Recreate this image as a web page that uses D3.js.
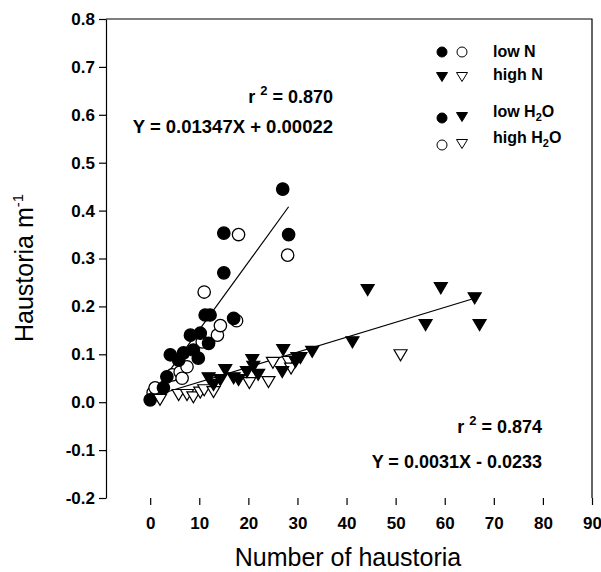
<!DOCTYPE html>
<html><head><meta charset="utf-8">
<script src="https://cdn.jsdelivr.net/npm/d3@7"></script>
<style>
body{margin:0;background:#fff;}
svg{font-family:"Liberation Sans",Arial,sans-serif;}
</style></head>
<body><svg id="c" width="601" height="572"></svg>
<script>
// ---- data ----
const lowN_lowH2O = [[0,0.005],[2.7,0.03],[3.4,0.053],[4.1,0.099],[5.8,0.088],[6.8,0.103],[8.2,0.14],[8.8,0.109],[9.8,0.092],[10.2,0.144],[11.2,0.182],[12.2,0.182],[11.9,0.123],[15,0.27],[15,0.353],[17,0.175],[27,0.445],[28.2,0.35]];
const lowN_highH2O = [[0.6,0.02],[1,0.03],[4.5,0.057],[6.1,0.063],[6.5,0.05],[7.5,0.074],[10.6,0.126],[11,0.23],[13.7,0.14],[14.3,0.16],[17.6,0.17],[18,0.35],[28,0.307]];
const highN_lowH2O = [[11.9,0.05],[12.9,0.036],[14.3,0.046],[15.3,0.067],[17,0.05],[18,0.046],[19.7,0.063],[20.8,0.088],[21,0.074],[22,0.057],[26.9,0.063],[27.1,0.109],[29.6,0.084],[30,0.092],[30.6,0.092],[33,0.105],[41.2,0.125],[44.3,0.234],[56.1,0.161],[59.2,0.238],[66.1,0.217],[67.1,0.161]];
const highN_highH2O = [[2,0.005],[5.8,0.015],[7.5,0.015],[8.8,0.01],[10.2,0.02],[11,0.025],[12.9,0.021],[20.2,0.04],[24.1,0.042],[25,0.082],[28.2,0.084],[28.7,0.07],[51,0.098]];
const fitLowN = [[0,0.01],[28.2,0.408]];
const fitHighN = [[1,0.014],[66.1,0.217]];
const xTicks = [0,10,20,30,40,50,60,70,80,90];
const yTicks = [-0.2,-0.1,0.0,0.1,0.2,0.3,0.4,0.5,0.6,0.7,0.8];

const svg = d3.select("#c");
const x = d3.scaleLinear().domain([-9,90]).range([106,592]);
const y = d3.scaleLinear().domain([-0.2,0.8]).range([498,19]);

// frame
svg.append("path").attr("d",`M${x(-9)},${y(0.8)}H${x(90)}V${y(-0.2)}`).attr("fill","none").attr("stroke","#000").attr("stroke-width",1.2);

// y axis
const ya = svg.append("g").attr("transform",`translate(${x(-9)},0)`)
  .call(d3.axisLeft(y).tickValues(yTicks).tickFormat(d=>d3.format(".1f")(d).replace("\u2212","-")).tickSize(7).tickSizeOuter(0).tickPadding(4));
ya.select(".domain").attr("stroke-width",1.2);
ya.selectAll("line").attr("stroke-width",1.2);
ya.selectAll("text").attr("font-size",17).attr("font-weight","bold").attr("font-family","Liberation Sans, Arial").attr("fill","#000");

// x axis (ticks only)
const xa = svg.append("g").attr("transform",`translate(0,${y(-0.2)})`)
  .call(d3.axisBottom(x).tickValues(xTicks).tickSize(7).tickPadding(12));
xa.select(".domain").remove();
xa.selectAll("line").attr("stroke-width",1.2);
xa.selectAll("text").attr("font-size",17).attr("font-weight","bold").attr("font-family","Liberation Sans, Arial").attr("fill","#000");

// axis titles
svg.append("text").attr("x",348).attr("y",566).attr("text-anchor","middle").attr("font-size",25).text("Number of haustoria");
const yt = svg.append("text").attr("transform","translate(33,268) rotate(-90)").attr("text-anchor","middle").attr("font-size",25);
yt.append("tspan").text("Haustoria m");
yt.append("tspan").attr("font-size",15).attr("dy",-10).text("-1");

// fit lines
const line = d3.line().x(d=>x(d[0])).y(d=>y(d[1]));
[fitLowN,fitHighN].forEach(f=>svg.append("path").attr("d",line(f)).attr("fill","none").attr("stroke","#000").attr("stroke-width",1.2));

// markers
const tri = (w,h)=>`M${-w/2},${-h/2}L${w/2},${-h/2}L0,${h/2}Z`;
function circles(data, filled, r){
  svg.append("g").selectAll("circle").data(data).join("circle")
    .attr("cx",d=>x(d[0])).attr("cy",d=>y(d[1])).attr("r",r)
    .attr("fill",filled?"#000":"#fff").attr("stroke","#000").attr("stroke-width",1.3);
}
function triangles(data, filled){
  svg.append("g").selectAll("path").data(data).join("path")
    .attr("transform",d=>`translate(${x(d[0])},${y(d[1])})`).attr("d",tri(13,11))
    .attr("fill",filled?"#000":"#fff").attr("stroke","#000").attr("stroke-width",1.2).attr("stroke-linejoin","miter");
}
circles(lowN_highH2O,false,6.2);
circles(lowN_lowH2O,true,6.2);
triangles(highN_highH2O,false);
triangles(highN_lowH2O,true);

// annotations
function ann(xr, yb, label){
  const t = svg.append("text").attr("x",xr).attr("y",yb).attr("text-anchor","end").attr("font-size",18).attr("font-weight","bold");
  t.append("tspan").text("r ");
  t.append("tspan").attr("font-size",13).attr("dy",-8).text("2");
  t.append("tspan").attr("dy",8).text(" = "+label);
}
ann(333,103,"0.870");
svg.append("text").attr("x",333).attr("y",133).attr("text-anchor","end").attr("font-size",18.5).attr("font-weight","bold").text("Y = 0.01347X + 0.00022");
ann(542,433,"0.874");
svg.append("text").attr("x",542).attr("y",468).attr("text-anchor","end").attr("font-size",18).attr("font-weight","bold").text("Y = 0.0031X - 0.0233");

// legend
const lg = svg.append("g");
function lsym(cx,cy,type,filled){
  if(type==="c") lg.append("circle").attr("cx",cx).attr("cy",cy).attr("r",5).attr("fill",filled?"#000":"#fff").attr("stroke","#000").attr("stroke-width",1);
  else lg.append("path").attr("transform",`translate(${cx},${cy})`).attr("d",tri(11,9)).attr("fill",filled?"#000":"#fff").attr("stroke","#000").attr("stroke-width",1);
}
lsym(442,52,"c",true); lsym(462,52,"c",false);
lsym(442,77,"t",true); lsym(462,77,"t",false);
lsym(442,118,"c",true); lsym(462,117,"t",true);
lsym(442,145,"c",false); lsym(462,144,"t",false);
function ltext(yb, parts){
  const t = lg.append("text").attr("x",493).attr("y",yb).attr("font-size",16).attr("font-weight","bold");
  parts.forEach(p=>{ const s=t.append("tspan").text(p[0]).attr("font-size",p[2]||16); if(p[1]) s.attr("dy",p[1]); });
}
ltext(57,[["low N"]]);
ltext(80,[["high N"]]);
ltext(117,[["low H"],["2",4,11],["O",-4]]);
ltext(143,[["high H"],["2",4,11],["O",-4]]);
</script></body></html>
